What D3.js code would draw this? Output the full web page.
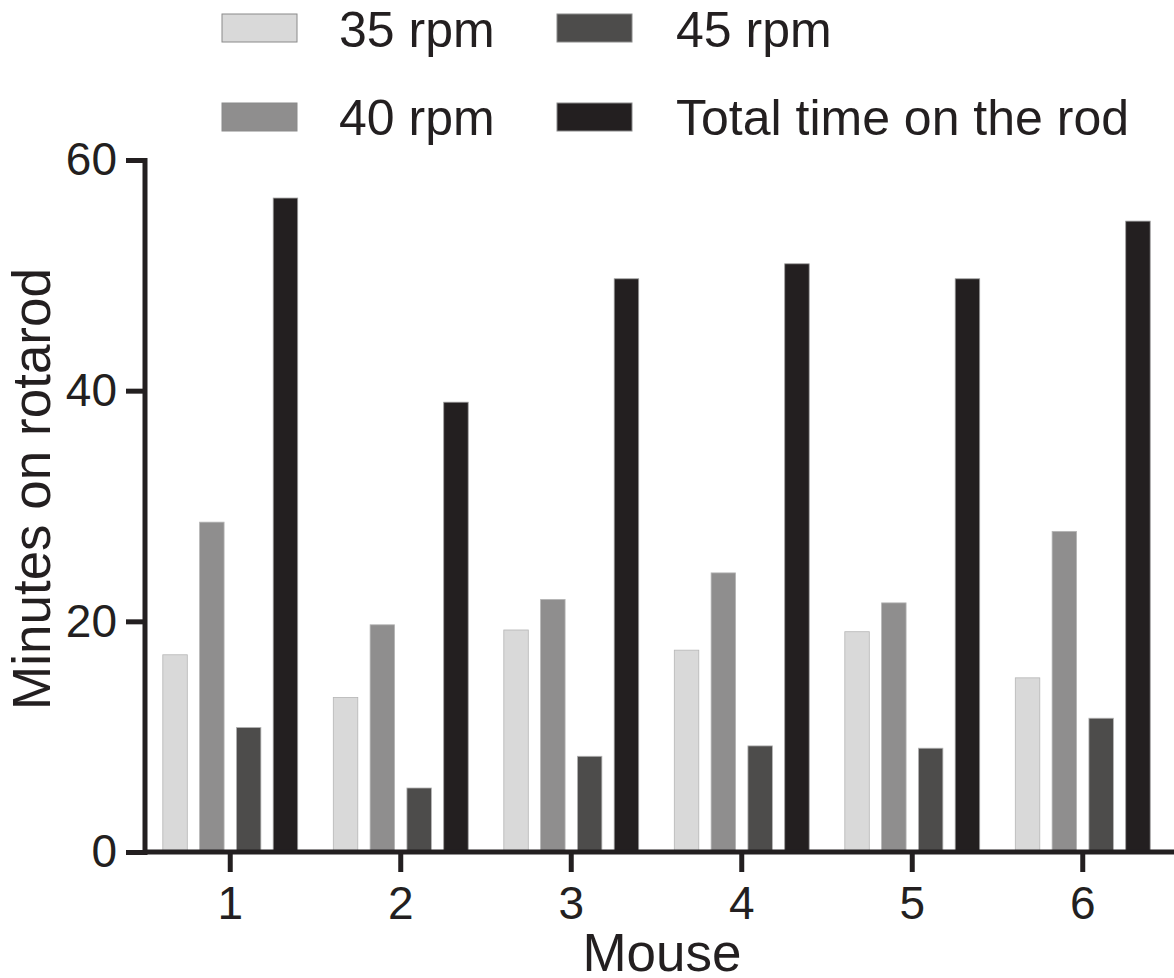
<!DOCTYPE html>
<html>
<head>
<meta charset="utf-8">
<script src="https://cdn.jsdelivr.net/npm/d3@7"></script>
<style>
  html, body { margin: 0; padding: 0; background: #fff; }
  svg { display: block; }
  text { font-family: "Liberation Sans", Arial, Helvetica, sans-serif; fill: #231f20; }
</style>
</head>
<body>
<svg id="chart" width="1174" height="978"></svg>
<script>
const mice = ["1", "2", "3", "4", "5", "6"];
const seriesNames = ["35 rpm", "40 rpm", "45 rpm", "Total time on the rod"];
const rpm35 = [17.1, 13.4, 19.25, 17.5, 19.1, 15.1];
const rpm40 = [28.6, 19.7, 21.9, 24.2, 21.6, 27.8];
const rpm45 = [10.8, 5.55, 8.3, 9.2, 9.0, 11.6];
const totalTime = [56.7, 39.0, 49.7, 51.0, 49.7, 54.7];
const yTicks = [0, 20, 40, 60];
const colors = ["#d9d9d9", "#8f8e8e", "#4d4c4b", "#231f20"];

const seriesValues = [rpm35, rpm40, rpm45, totalTime];
const svg = d3.select("#chart");
const axisColor = "#231f20";

const x0 = d3.scaleBand().domain(mice).range([145, 1168]).paddingInner(0).paddingOuter(0);
const x1 = d3.scaleBand().domain(seriesNames).range([0, x0.bandwidth()]).paddingInner(0.335).paddingOuter(0.484);
const y = d3.scaleLinear().domain([0, 60]).range([852, 160]);

// bars
const groups = svg.append("g").selectAll("g")
  .data(mice)
  .join("g")
  .attr("transform", d => `translate(${x0(d)},0)`);

groups.selectAll("rect")
  .data((d, i) => seriesNames.map((s, k) => ({ s, k, v: seriesValues[k][i] })))
  .join("rect")
  .attr("x", d => x1(d.s))
  .attr("width", x1.bandwidth())
  .attr("y", d => y(d.v))
  .attr("height", d => y(0) - y(d.v))
  .attr("fill", d => colors[d.k])
  .attr("stroke", d => d.k === 3 ? "#9a9a9a" : "#b5b5b5")
  .attr("stroke-width", 0.8);

// y axis
const yAxis = svg.append("g")
  .attr("transform", "translate(145,0)")
  .call(d3.axisLeft(y).tickValues(yTicks).tickSize(19).tickPadding(9).tickSizeOuter(0));
yAxis.select(".domain").attr("stroke", axisColor).attr("stroke-width", 5).attr("d", `M0,${y(60) - 2}V${y(0) + 3}`);
yAxis.selectAll(".tick line").attr("stroke", axisColor).attr("stroke-width", 5);
yAxis.selectAll(".tick text").attr("font-size", 46).attr("fill", axisColor)
  .attr("font-family", '"Liberation Sans", Arial, sans-serif');

// x axis
const xAxis = svg.append("g")
  .attr("transform", `translate(0,${y(0)})`)
  .call(d3.axisBottom(x0).tickSize(20).tickPadding(14).tickSizeOuter(0));
xAxis.select(".domain").attr("stroke", axisColor).attr("stroke-width", 5).attr("d", "M143,0H1174");
xAxis.selectAll(".tick line").attr("stroke", axisColor).attr("stroke-width", 5);
xAxis.selectAll(".tick text").attr("font-size", 46).attr("fill", axisColor)
  .attr("font-family", '"Liberation Sans", Arial, sans-serif');

// axis titles
svg.append("text")
  .attr("x", 662).attr("y", 971)
  .attr("text-anchor", "middle")
  .attr("font-size", 53)
  .text("Mouse");

svg.append("text")
  .attr("transform", "translate(50,489) rotate(-90)")
  .attr("text-anchor", "middle")
  .attr("font-size", 53)
  .text("Minutes on rotarod");

// legend
const legendPos = [
  { sx: 222, sy: 14, tx: 339, ty: 47 },
  { sx: 222, sy: 103, tx: 339, ty: 135 },
  { sx: 557, sy: 14, tx: 676, ty: 47 },
  { sx: 557, sy: 103, tx: 676, ty: 135 }
];
const legend = svg.append("g");
seriesNames.forEach((name, k) => {
  const p = legendPos[k];
  legend.append("rect")
    .attr("x", p.sx).attr("y", p.sy)
    .attr("width", 75).attr("height", 28)
    .attr("fill", colors[k])
    .attr("stroke", "#8a8a8a").attr("stroke-width", 1);
  legend.append("text")
    .attr("x", p.tx).attr("y", p.ty)
    .attr("font-size", 50)
    .text(name);
});
</script>
</body>
</html>
